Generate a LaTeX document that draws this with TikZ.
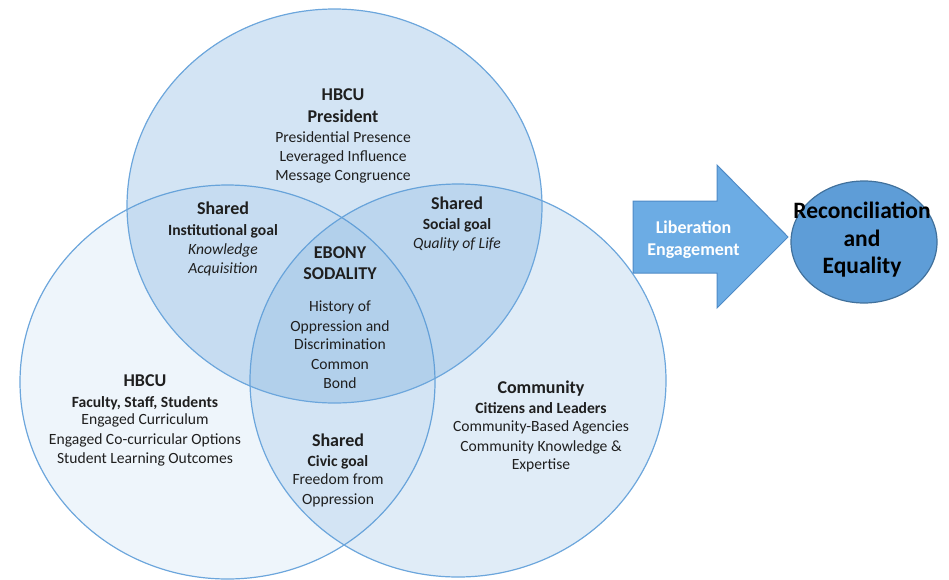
\documentclass[tikz,border=0pt]{standalone}
\usepackage{fontspec}
\setmainfont{Carlito}
\usetikzlibrary{shapes.geometric}
\definecolor{vennblue}{RGB}{91,155,213}
\definecolor{vennline}{RGB}{108,166,220}
\definecolor{arrowfill}{RGB}{108,172,228}
\definecolor{arrowline}{RGB}{78,138,198}
\definecolor{goalfill}{RGB}{94,157,215}
\definecolor{goalline}{RGB}{65,113,156}
\tikzset{
  venn/.style={draw=vennline,line width=1.2pt,fill=vennblue},
  txt/.style={align=center,anchor=north,inner sep=0pt,text=black!88,
    font=\fontsize{15.6}{19}\selectfont},
}
\newcommand{\hd}[1]{{\fontsize{18}{19}\selectfont\bfseries #1}}
\newcommand{\sh}[1]{{\bfseries #1}}

\begin{document}
\begin{tikzpicture}[x=1pt,y=-1pt]
            \useasboundingbox (0,0) rectangle (949,579);
            \draw[venn,fill opacity=0.1] (227.5,382) ellipse [x radius=207.5pt,y radius=197pt];
            \draw[venn,fill opacity=0.19] (458,380.5) ellipse [x radius=208pt,y radius=196.5pt];
            \draw[venn,fill opacity=0.27] (334.5,206) ellipse [x radius=207.5pt,y radius=197pt];
            \node[txt] (pres) at (343,88) {\hd{HBCU}\\[3pt]\hd{President}\\[1pt]Presidential Presence\\Leveraged Influence\\Message Congruence};
            \node[txt] (inst) at (223,202) {\hd{Shared}\\[2pt]\sh{Institutional goal}\\\textit{Knowledge}\\\textit{Acquisition}};
            \node[txt] (soc) at (457,197) {\hd{Shared}\\[1pt]\sh{Social goal}\\\textit{Quality of Life}};
            \node[txt] (ebony) at (340,246) {\hd{EBONY}\\[2pt]\hd{SODALITY}\\[13pt]History of\\[1pt]Oppression and\\[-1pt]Discrimination\\[1pt]Common\\Bond};
            \node[txt] (fac) at (145,374) {\hd{HBCU}\\[2pt]\sh{Faculty, Staff, Students}\\[-2pt]Engaged Curriculum\\[1pt]Engaged Co-curricular Options\\Student Learning Outcomes};
            \node[txt] (civ) at (338,434) {\hd{Shared}\\[1pt]\sh{Civic goal}\\[-1pt]Freedom from\\[1pt]Oppression};
            \node[txt] (comm) at (541,381) {\hd{Community}\\[1pt]\sh{Citizens and Leaders}\\[-1pt]Community-Based Agencies\\[1pt]Community Knowledge \&\\[-1pt]Expertise};
            \draw[fill=arrowfill,draw=arrowline,line width=1pt] (633,201) -- (717,201) -- (717,165) -- (788,237) -- (717,308) -- (717,273) -- (633,273) -- cycle;
            \node[txt,text=white,font=\fontsize{18}{22}\selectfont\bfseries] (lib) at (693.5,221) {Liberation\\Engagement};
            \node[draw=goalline,fill=goalfill,line width=1.2pt,ellipse,minimum width=146pt,minimum height=122pt] (goal) at (864,242) {};
            \node[txt,text=black,font=\fontsize{23.5}{27.5}\selectfont\bfseries] (goaltxt) at (862,202) {Reconciliation\\and\\Equality};
        \end{tikzpicture}
\end{document}
